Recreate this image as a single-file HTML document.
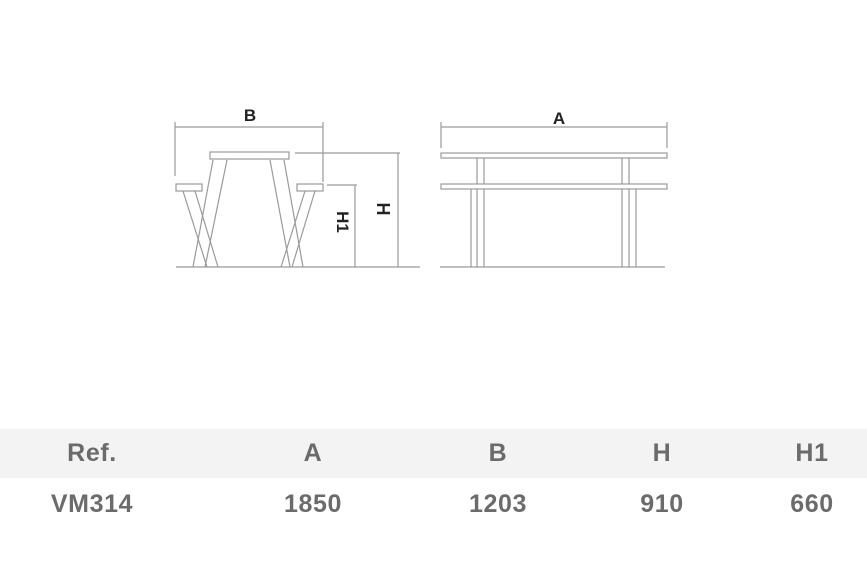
<!DOCTYPE html>
<html><head><meta charset="utf-8"><style>
body{margin:0;width:867px;height:564px;background:#fff;overflow:hidden;position:relative;font-family:"Liberation Sans",sans-serif}
.row{position:absolute;left:0;width:867px;height:49px}
.row span{position:absolute;top:0;line-height:49px;transform:translateX(-50%);font-weight:bold;font-size:25px;letter-spacing:0.6px;color:#6b6b6b}
</style></head><body>
<svg width="867" height="564" style="position:absolute;left:0;top:0" xmlns="http://www.w3.org/2000/svg">
<g fill="none" stroke="#9a9a9a" stroke-width="1.2">
<line x1="176" y1="267" x2="420" y2="267"/>
<line x1="440" y1="267" x2="665" y2="267"/>
<line x1="175" y1="127" x2="323" y2="127"/>
<line x1="175" y1="122" x2="175" y2="176"/>
<line x1="323" y1="122" x2="323" y2="182"/>
<rect x="210" y="152" width="79" height="7"/>
<rect x="176" y="184" width="26" height="7"/>
<rect x="297" y="184" width="26" height="7"/>
<line x1="213" y1="160" x2="193" y2="267"/><line x1="227" y1="160" x2="205" y2="267"/>
<line x1="183" y1="191" x2="207" y2="267"/><line x1="195" y1="191" x2="218" y2="267"/>
<line x1="270" y1="160" x2="290" y2="267"/><line x1="284" y1="160" x2="303" y2="267"/>
<line x1="315" y1="191" x2="292" y2="267"/><line x1="305" y1="191" x2="281" y2="267"/>
<line x1="295" y1="153" x2="400" y2="153"/>
<line x1="398" y1="153" x2="398" y2="267"/>
<line x1="327" y1="185" x2="357" y2="185"/>
<line x1="355" y1="185" x2="355" y2="267"/>
<line x1="441" y1="127" x2="667" y2="127"/>
<line x1="441" y1="122" x2="441" y2="148"/>
<line x1="667" y1="122" x2="667" y2="148"/>
<rect x="441" y="153" width="226" height="5"/>
<rect x="441" y="184" width="226" height="5"/>
<line x1="477" y1="158" x2="477" y2="184"/><line x1="484" y1="158" x2="484" y2="184"/>
<line x1="622" y1="158" x2="622" y2="184"/><line x1="629" y1="158" x2="629" y2="184"/>
<line x1="471" y1="189" x2="471" y2="267"/><line x1="477" y1="189" x2="477" y2="267"/><line x1="484" y1="189" x2="484" y2="267"/>
<line x1="622" y1="189" x2="622" y2="267"/><line x1="629" y1="189" x2="629" y2="267"/><line x1="636" y1="189" x2="636" y2="267"/>
</g>
<g font-family="Liberation Sans,sans-serif" font-weight="bold" fill="#222" font-size="17">
<text x="250" y="121" text-anchor="middle">B</text>
<text x="559" y="124" text-anchor="middle">A</text>
<text transform="translate(377,209) rotate(90)" text-anchor="middle" font-size="18">H</text>
<text transform="translate(337,222) rotate(90)" text-anchor="middle" font-size="17">H1</text>
</g>
</svg>
<div class="row" style="top:429px;background:#f3f3f3"><span style="left:92px">Ref.</span><span style="left:313px">A</span><span style="left:498px">B</span><span style="left:662px">H</span><span style="left:812px">H1</span></div>
<div class="row" style="top:480px"><span style="left:92px">VM314</span><span style="left:313px">1850</span><span style="left:498px">1203</span><span style="left:662px">910</span><span style="left:812px">660</span></div>
</body></html>
